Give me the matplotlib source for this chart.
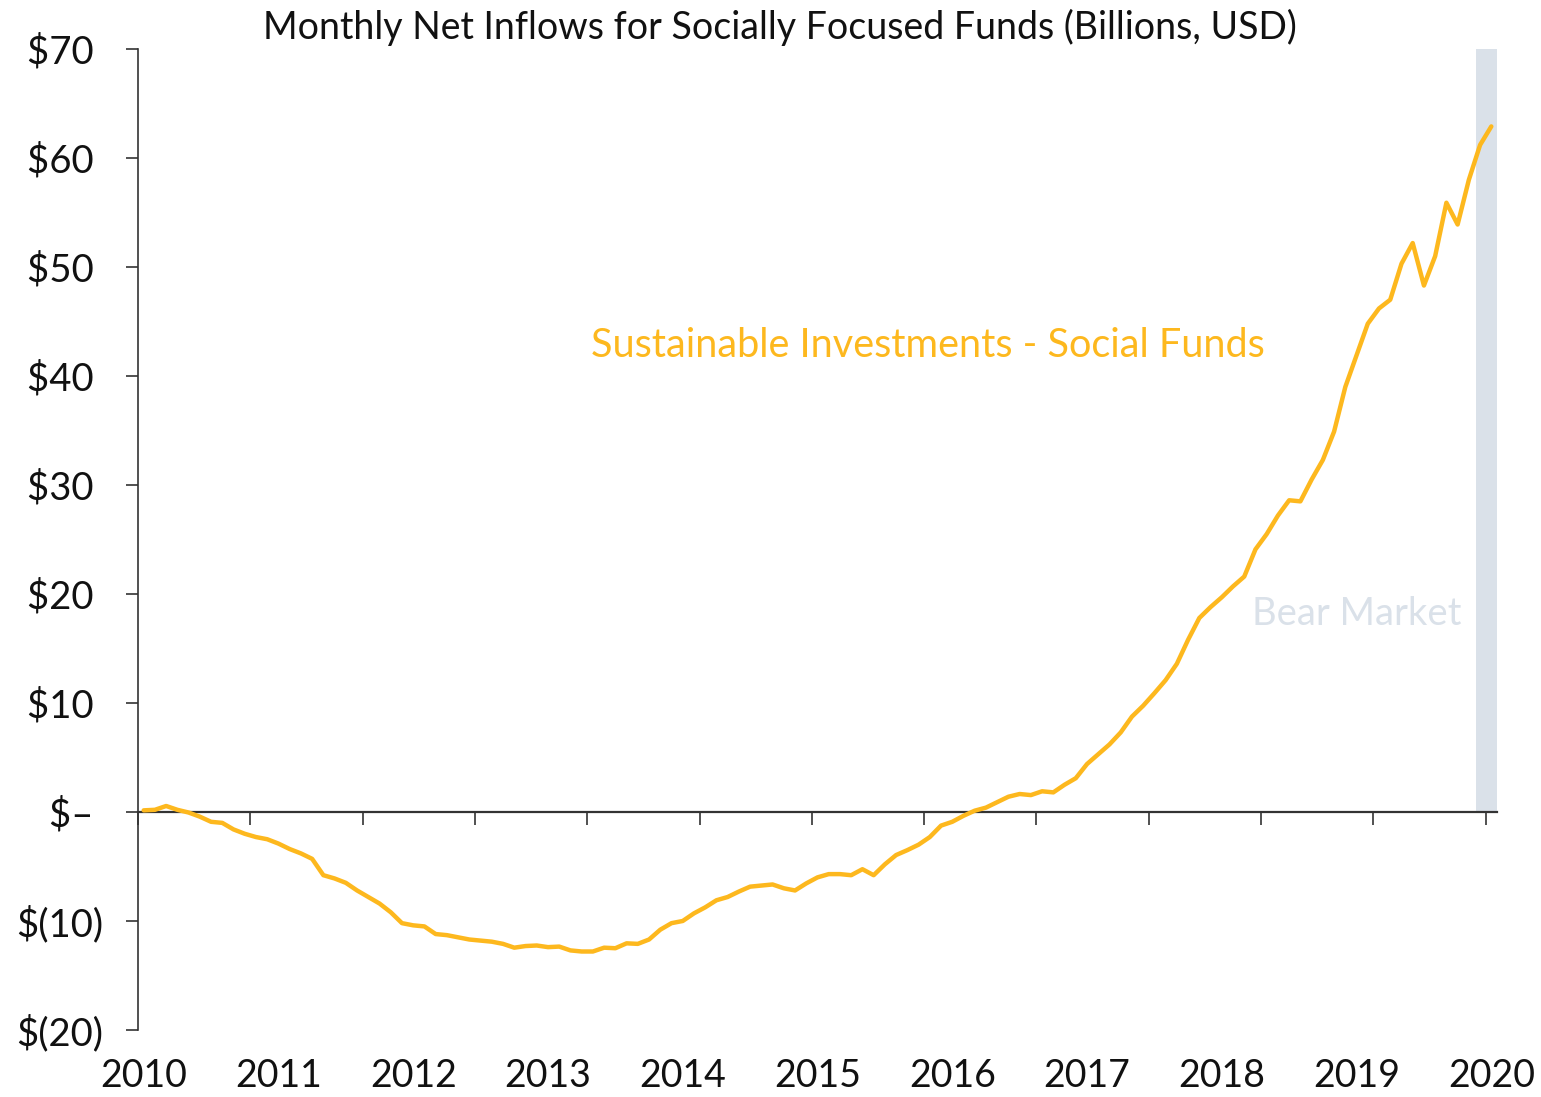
import matplotlib
matplotlib.use("Agg")
import matplotlib.pyplot as plt
import matplotlib.ticker as mticker

# Monthly cumulative net inflows, Jan 2010 .. Jan 2020 (billions USD)
inflows = [
    0.15, 0.2, 0.55, 0.2, -0.05, -0.43, -0.9, -1.0, -1.6, -2.0,
    -2.3, -2.5, -2.9, -3.4, -3.8, -4.3, -5.8, -6.1, -6.5, -7.2,
    -7.8, -8.4, -9.2, -10.2, -10.4, -10.5, -11.2, -11.3, -11.5, -11.7,
    -11.8, -11.9, -12.1, -12.45, -12.3, -12.25, -12.4, -12.35, -12.7, -12.8,
    -12.8, -12.45, -12.5, -12.05, -12.1, -11.7, -10.8, -10.2, -10.0, -9.3,
    -8.75, -8.1, -7.8, -7.3, -6.85, -6.75, -6.65, -7.0, -7.2, -6.55,
    -6.0, -5.7, -5.7, -5.8, -5.25, -5.8, -4.8, -3.95, -3.5, -3.0,
    -2.3, -1.25, -0.9, -0.35, 0.12, 0.4, 0.9, 1.4, 1.65, 1.55,
    1.9, 1.8, 2.5, 3.1, 4.4, 5.3, 6.2, 7.3, 8.75, 9.75,
    10.9, 12.1, 13.6, 15.8, 17.8, 18.8, 19.7, 20.7, 21.6, 24.1,
    25.5, 27.2, 28.6, 28.5, 30.5, 32.3, 34.9, 39.0, 41.9, 44.8,
    46.2, 47.0, 50.3, 52.2, 48.3, 51.0, 55.9, 53.9, 58.0, 61.2,
    62.9,
]
years = ["2010", "2011", "2012", "2013", "2014", "2015",
         "2016", "2017", "2018", "2019", "2020"]
y_ticks = [-20, -10, 0, 10, 20, 30, 40, 50, 60, 70]
bear_start, bear_end = 118.6, 120.5

LINE_COLOR = "#FDB81E"
SHADE_COLOR = "#DAE1E9"
AXIS_COLOR = "#333333"

plt.rcParams["font.family"] = ["Lato", "DejaVu Sans"]

fig = plt.figure(figsize=(15.41, 10.97), dpi=100)
ax = fig.add_axes([0.0896, 0.0611, 0.8818, 0.8942])

x = list(range(len(inflows)))
ymin, ymax = -20, 70
zero_frac = (0 - ymin) / float(ymax - ymin)

# Bear market shading (only above the zero line)
ax.axvspan(bear_start, bear_end, ymin=zero_frac, ymax=1, color=SHADE_COLOR,
           lw=0, zorder=0)

ax.plot(x, inflows, color=LINE_COLOR, lw=3.2, solid_joinstyle="round",
        solid_capstyle="round", zorder=3)

ax.set_xlim(-0.5, len(inflows) - 0.5)
ax.set_ylim(ymin, ymax)

# Y axis
def money(v, pos):
    if v == 0:
        return "$\u2013 "
    if v < 0:
        return "$(%d)" % abs(v)
    return "$%d " % v

ax.set_yticks(y_ticks)
ax.yaxis.set_major_formatter(mticker.FuncFormatter(money))
ax.tick_params(axis="y", direction="out", length=9, width=1.2,
               color=AXIS_COLOR, labelsize=27.5, labelcolor="#111111", pad=16)

# Year labels along the bottom, no tick marks
ax.set_xticks([12 * k for k in range(len(years))])
ax.set_xticklabels(years)
ax.tick_params(axis="x", length=0, pad=20, labelsize=27,
               labelcolor="#111111")

for side in ["top", "right", "bottom"]:
    ax.spines[side].set_visible(False)
ax.spines["left"].set_color(AXIS_COLOR)
ax.spines["left"].set_linewidth(1.2)

# Zero line with its own tick marks every 10 months
sec = ax.secondary_xaxis(zero_frac)
sec.set_xticks([-0.5 + 10 * k for k in range(13)])
sec.tick_params(axis="x", direction="out", length=9, width=1.2,
                color=AXIS_COLOR, labelbottom=False, labeltop=False)
sec.spines["bottom"].set_color(AXIS_COLOR)
sec.spines["bottom"].set_linewidth(1.6)

# Labels
ax.text(69.8, 42.8, "Sustainable Investments - Social Funds",
        color=LINE_COLOR, fontsize=28.5, ha="center", va="center")
ax.text(108.0, 18.2, "Bear Market", color=SHADE_COLOR, fontsize=27.5,
        ha="center", va="center")

fig.text(0.506, 0.975,
         "Monthly Net Inflows for Socially Focused Funds (Billions, USD)",
         fontsize=27, ha="center", va="center", color="#111111")

fig.savefig("out.png", dpi=100)
